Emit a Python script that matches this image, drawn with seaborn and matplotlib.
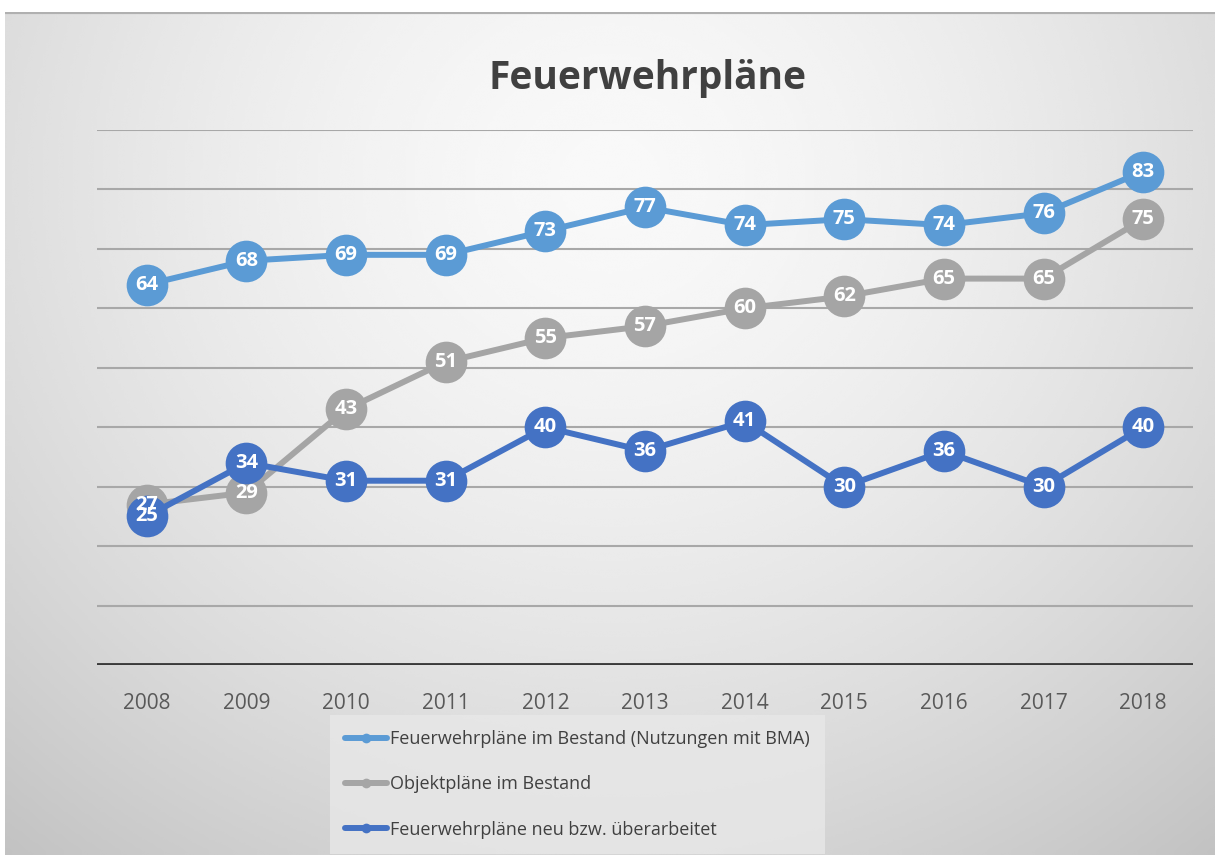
import numpy as np
import pandas as pd
import matplotlib
matplotlib.use("Agg")
import matplotlib.pyplot as plt
from matplotlib.lines import Line2D
import seaborn as sns

years = [2008, 2009, 2010, 2011, 2012, 2013, 2014, 2015, 2016, 2017, 2018]
bestand_bma = [64, 68, 69, 69, 73, 77, 74, 75, 74, 76, 83]
objektplaene = [27, 29, 43, 51, 55, 57, 60, 62, 65, 65, 75]
neu_ueberarbeitet = [25, 34, 31, 31, 40, 36, 41, 30, 36, 30, 40]

series_names = [
    "Feuerwehrpläne im Bestand (Nutzungen mit BMA)",
    "Objektpläne im Bestand",
    "Feuerwehrpläne neu bzw. überarbeitet",
]
colors = ["#5B9BD5", "#A5A5A5", "#4472C4"]

df = pd.DataFrame({
    "Jahr": years * 3,
    "Anzahl": bestand_bma + objektplaene + neu_ueberarbeitet,
    "Reihe": [series_names[0]] * 11 + [series_names[1]] * 11 + [series_names[2]] * 11,
})

sns.set_theme(style="white")
plt.rcParams["font.family"] = ["Open Sans", "DejaVu Sans"]

fig = plt.figure(figsize=(12.15, 8.55), dpi=100)
fig.patch.set_facecolor("white")

# radial gradient background
bg = fig.add_axes([5 / 1215, 0, 1210 / 1215, 843 / 855], zorder=0)
yy, xx = np.mgrid[0:1:300j, 0:1:400j]
d = np.sqrt(((xx - 0.5) / 0.75) ** 2 + ((yy - 0.2) / 1.0) ** 2)
val = np.clip(0.975 - 0.2 * d ** 1.6, 0, 1)
bg.imshow(val, cmap="gray", vmin=0, vmax=1, aspect="auto", extent=[0, 1, 0, 1],
          origin="upper", interpolation="bicubic")
bg.plot([0, 1], [1, 1], color="#b0b0b0", lw=3, transform=bg.transAxes)
bg.set_axis_off()

ax = fig.add_axes([97 / 1215, 190 / 855, 1096 / 1215, 535 / 855], zorder=1)
ax.patch.set_alpha(0)

for g in range(10, 100, 10):
    ax.axhline(g, color="#a8a8a8", lw=1.5, zorder=0)
ax.axhline(0, color="#3a3a3a", lw=3.5, zorder=1)

sns.lineplot(data=df, x="Jahr", y="Anzahl", hue="Reihe", hue_order=series_names,
             palette=colors, marker="o", markersize=30, markeredgewidth=0,
             linewidth=4.3, legend=False, ax=ax, zorder=3)

for vals in [bestand_bma, objektplaene, neu_ueberarbeitet]:
    for x, v in zip(years, vals):
        ax.text(x, v, str(v), color="white", fontsize=14.5, fontweight="bold",
                ha="center", va="center", zorder=10)

ax.set_xlim(2007.5, 2018.5)
ax.set_ylim(0, 90)
ax.set_xticks(years)
ax.set_xticklabels([str(y) for y in years], fontsize=15, color="#595959")
ax.set_yticks([])
ax.tick_params(axis="x", length=0, pad=20)
ax.set_xlabel("")
ax.set_ylabel("")
for s in ax.spines.values():
    s.set_visible(False)

fig.text(648 / 1215, 1 - 78 / 855, "Feuerwehrpläne", fontsize=28, fontweight="bold",
         color="#404040", ha="center", va="center")

handles = [Line2D([0], [0], color=c, lw=4.3, marker="o", markersize=7,
                  markeredgewidth=0) for c in colors]
leg = fig.legend(handles, series_names, loc="upper left",
                 bbox_to_anchor=(330 / 1215, 1 - 715 / 855), frameon=True,
                 fontsize=13, labelcolor="#404040", handlelength=2.3,
                 handletextpad=0.15, labelspacing=1.5, borderpad=0.85,
                 borderaxespad=0)
leg.get_frame().set_facecolor("#e8e8e8")
leg.get_frame().set_edgecolor("none")
leg.get_frame().set_alpha(0.8)
leg.get_frame().set_boxstyle("square", pad=0)

fig.savefig("out.png", dpi=100)
